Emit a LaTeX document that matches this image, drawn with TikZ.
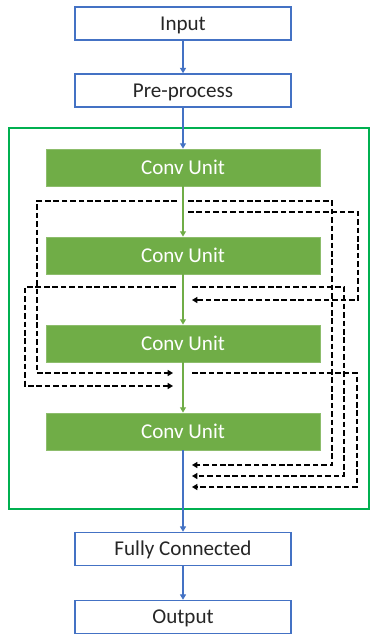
\documentclass[tikz,border=0pt]{standalone}
\usepackage{fontspec}
\setmainfont{Carlito}
\usetikzlibrary{
    arrows.meta,
    positioning,
}
\definecolor{boxblue}{HTML}{4472C4}
\definecolor{unitgreen}{HTML}{70AD47}
\definecolor{framegreen}{HTML}{00B050}

\tikzset{
    iobox/.style={draw=boxblue, line width=0.9pt, fill=white, minimum width=4.32cm, minimum height=0.66cm, inner sep=0pt, text height=7.7pt, text depth=0pt, text=black!85, font=\fontsize{12}{14}\selectfont},
    unitbox/.style={draw=unitgreen!80!white, line width=0.5pt, fill=unitgreen, minimum width=5.48cm, minimum height=0.74cm, inner sep=0pt, text height=7.7pt, text depth=0pt, text=white, font=\fontsize{12}{14}\selectfont},
    flow/.style={draw=boxblue, line width=0.6pt, -{Triangle[length=3pt,width=3.4pt]}},
    gflow/.style={draw=unitgreen, line width=0.6pt, -{Triangle[length=3pt,width=3.4pt]}},
    skip/.style={draw=black, line width=1pt, dash pattern=on 3.2pt off 1.6pt, -{Triangle[length=3pt,width=3.4pt]}},
}

\begin{document}
\begin{tikzpicture}[x=0.02cm, y=-0.02cm]

        \useasboundingbox (0,0) rectangle (371,639);

        \draw[framegreen, line width=1.1pt] (9,128) rectangle (369,509);

        \node[iobox] (input) at (183,23.5) {Input};
        \node[iobox] (pre) at (183,90.5) {Pre-process};
        \node[unitbox] (conv1) at (183,167.5) {Conv Unit};
        \node[unitbox] (conv2) at (183,255.5) {Conv Unit};
        \node[unitbox] (conv3) at (183,343.5) {Conv Unit};
        \node[unitbox] (conv4) at (183,431.5) {Conv Unit};
        \node[iobox] (fc) at (183,549) {Fully Connected};
        \node[iobox] (output) at (183,617) {Output};

        \draw[flow] (input) -- (pre);
        \draw[flow] (pre) -- (conv1);
        \draw[gflow] (conv1) -- (conv2);
        \draw[gflow] (conv2) -- (conv3);
        \draw[gflow] (conv3) -- (conv4);
        \draw[flow] (conv4) -- (fc);
        \draw[flow] (fc) -- (output);

        \coordinate (s1a) at (177,201);
        \coordinate (s1b) at (188,201);
        \coordinate (s1c) at (188,212);
        \coordinate (s2a) at (176,287);
        \coordinate (s2b) at (192,287);
        \coordinate (s3) at (192,373);
        \coordinate (t3) at (192,300);
        \coordinate (t4a) at (173,373);
        \coordinate (t4b) at (173,386);
        \coordinate (t5a) at (192,465);
        \coordinate (t5b) at (192,476);
        \coordinate (t5c) at (192,487);

        \draw[skip] (s1a) -- ++(-140,0) |- (t4a);
        \draw[skip] (s1b) -- ++(144,0) |- (t5a);
        \draw[skip] (s1c) -- ++(170,0) |- (t3);
        \draw[skip] (s2a) -- ++(-151,0) |- (t4b);
        \draw[skip] (s2b) -- ++(152,0) |- (t5b);
        \draw[skip] (s3) -- ++(165,0) |- (t5c);
    \end{tikzpicture}
\end{document}
